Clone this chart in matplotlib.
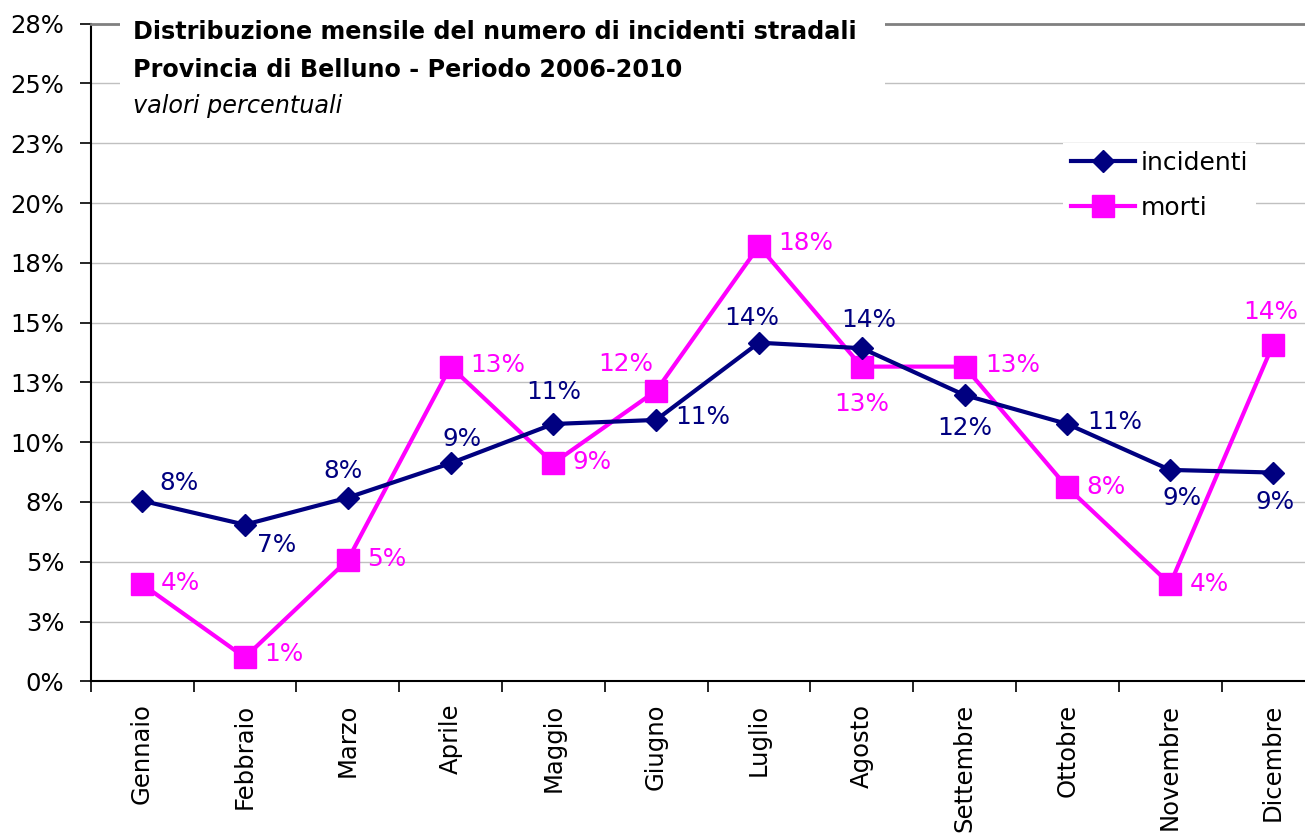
import matplotlib
matplotlib.use('Agg')
import matplotlib.pyplot as plt
import numpy as np
from matplotlib.patches import Rectangle

plt.rcParams['font.family'] = ['DejaVu Sans']

# Data (percent values)
mesi = ['Gennaio', 'Febbraio', 'Marzo', 'Aprile', 'Maggio', 'Giugno',
        'Luglio', 'Agosto', 'Settembre', 'Ottobre', 'Novembre', 'Dicembre']
incidenti = [7.55, 6.55, 7.68, 9.12, 10.76, 10.93, 14.16, 13.93, 11.97, 10.76, 8.84, 8.73]
morti = [4.06, 1.00, 5.07, 13.16, 9.12, 12.15, 18.20, 13.16, 13.16, 8.11, 4.06, 14.07]
y_ticks = [0, 2.5, 5, 7.5, 10, 12.5, 15, 17.5, 20, 22.5, 25, 27.5]
y_tick_labels = ['0%', '3%', '5%', '8%', '10%', '13%', '15%', '18%', '20%', '23%', '25%', '28%']

# label placement (pixel offsets from the marker, y down)
off_inc = [(37, -18), (32, 20), (-5, -27), (12, -24), (0, -32), (47, -3),
           (-7, -25), (7, -28), (0, 33), (47, -2), (12, 28), (2, 29)]
off_mor = [(38, -1), (39, -3), (39, -1), (47, -2), (39, -1), (-30, -27),
           (47, -3), (0, 37), (48, -2), (39, 0), (39, 0), (-2, -33)]

NAVY = '#000080'
MAGENTA = '#ff00ff'
W, H = 1305, 835
X0, Y0, Y1 = 90.7, 681.3, 23.7   # axes left, bottom, top in pixels
STEP = 102.8                     # pixels per month

fig = plt.figure(figsize=(W / 100, H / 100), dpi=100)
ax = fig.add_axes([X0 / W, 1 - Y0 / H, 1 - X0 / W, (Y0 - Y1) / H])

def axx(px):
    return (px - X0) / (W - X0)

def axy(py):
    return (Y0 - py) / (Y0 - Y1)

x = np.arange(len(mesi))
ax.plot(x, incidenti, color=NAVY, lw=3, marker='D', ms=11, zorder=5, label='incidenti')
ax.plot(x, morti, color=MAGENTA, lw=3, marker='s', ms=16.5, zorder=4, label='morti')

def lab(v):
    return '%d%%' % int(v + 0.5)

for i in range(len(mesi)):
    ax.annotate(lab(incidenti[i]), (x[i], incidenti[i]),
                xytext=(off_inc[i][0], -off_inc[i][1]),
                textcoords='offset pixels', ha='center', va='center',
                color=NAVY, fontsize=17.8, zorder=6)
    ax.annotate(lab(morti[i]), (x[i], morti[i]),
                xytext=(off_mor[i][0], -off_mor[i][1]),
                textcoords='offset pixels', ha='center', va='center',
                color=MAGENTA, fontsize=17.8, zorder=6)

ax.set_yticks(y_ticks)
ax.set_yticklabels(y_tick_labels, fontsize=17.5)
ax.tick_params(axis='y', length=8, width=1.2, pad=11, color='black')
ax.set_xticks(x)
ax.set_xticklabels(mesi, rotation=90, fontsize=17.5, va='top', ha='center')
ax.set_xticks(np.arange(-0.5, 12, 1), minor=True)
ax.tick_params(axis='x', which='major', length=0, pad=16)
ax.tick_params(axis='x', which='minor', length=8, width=1.2, color='black')
ax.set_ylim(0, 27.5)
ax.set_xlim(-0.5, -0.5 + (W - X0) / STEP)

ax.grid(axis='y', color='#c0c0c0', lw=1)
ax.set_axisbelow(True)
for s in ['left', 'bottom']:
    ax.spines[s].set_color('black')
    ax.spines[s].set_linewidth(1.5)
ax.spines['right'].set_visible(False)
ax.spines['top'].set_color('#808080')
ax.spines['top'].set_linewidth(2)

# title box
ax.add_patch(Rectangle((axx(120), axy(118)), axx(885) - axx(120), 1.1,
                       transform=ax.transAxes, facecolor='white',
                       edgecolor='none', zorder=3, clip_on=False))
fig.text(133 / W, 1 - 32 / H, 'Distribuzione mensile del numero di incidenti stradali',
         fontsize=17.2, fontweight='bold', va='center', ha='left')
fig.text(133 / W, 1 - 70 / H, 'Provincia di Belluno - Periodo 2006-2010',
         fontsize=17.2, fontweight='bold', va='center', ha='left')
fig.text(133 / W, 1 - 106 / H, 'valori percentuali',
         fontsize=17.2, fontstyle='italic', va='center', ha='left')

leg = ax.legend(loc='upper left', bbox_to_anchor=(axx(1063), axy(143)),
                frameon=True, fancybox=False, edgecolor='none', framealpha=1,
                fontsize=18, handlelength=2.56, handletextpad=0.24,
                labelspacing=0.86, borderpad=0.3, borderaxespad=0)

fig.savefig('out.png', dpi=100)
